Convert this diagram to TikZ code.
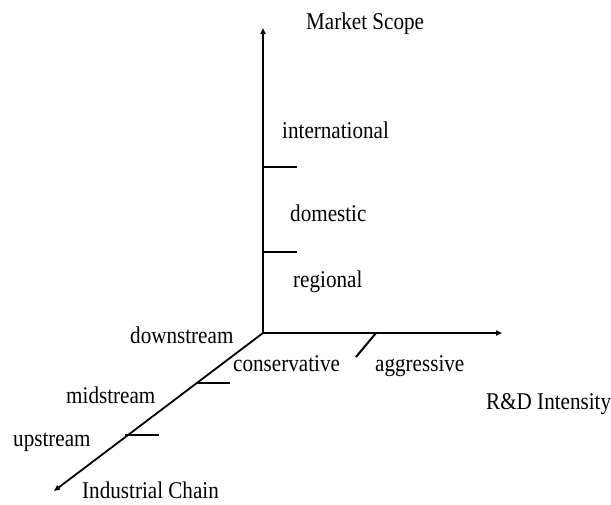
\documentclass[tikz,border=0pt]{standalone}
\usepackage{fontspec}
\setmainfont{Liberation Serif}[FakeStretch=0.88]
\usetikzlibrary{arrows.meta}
\tikzset{
	axis/.style={line width=1.8pt, -{Triangle[length=6pt,width=5pt,sep=5pt]}},
	tick/.style={line width=2pt}
}

\begin{document}
\begin{tikzpicture}[x=1pt,y=-1pt]
		\tikzstyle{every node}=[font=\fontsize{24}{27}\selectfont, inner sep=0pt, anchor=base west]
		\useasboundingbox (0,0) rectangle (611,504);

		% origin and the ends of the three axes
		\coordinate (O) at (263,333);
		\coordinate (ytip) at (263,23);
		\coordinate (xtip) at (507,333);
		\coordinate (ztip) at (50,494);

		\draw[axis] (O) -- (ytip); % market scope
		\draw[axis] (O) -- (xtip); % R&D intensity
		\draw[axis] (O) -- (ztip); % industrial chain

		% -----------------------------------------------------
		% ticks
		\coordinate (y1) at (263,167);
		\coordinate (y2) at (263,252);
		\draw[tick] (y1) -- ++(34,0);
		\draw[tick] (y2) -- ++(34,0);

		\coordinate (z1) at (196,383);
		\coordinate (z2) at (125,435);
		\draw[tick] (z1) -- ++(34,0);
		\draw[tick] (z2) -- ++(34,0);

		\coordinate (x1) at (376,333);
		\draw[tick] (x1) -- ++(-20,24);

		% -----------------------------------------------------
		% labels
		\node (market) at (306,29) {Market Scope};
		\node (intl) at (282,138) {international};
		\node (dom) at (290,221) {domestic};
		\node (reg) at (293,287) {regional};

		\node (down) at (130,343) {downstream};
		\node (mid) at (66,403) {midstream};
		\node (up) at (13,446) {upstream};
		\node (chain) at (82,498) {Industrial Chain};

		\node (cons) at (233,371) {conservative};
		\node (aggr) at (375,371) {aggressive};
		\node (rd) at (486,409) {R\&D Intensity};

\end{tikzpicture}
\end{document}
